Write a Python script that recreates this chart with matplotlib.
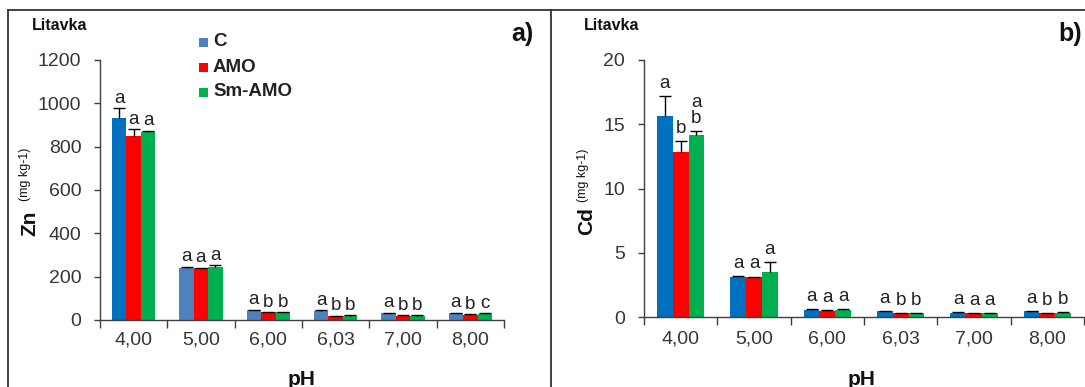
import matplotlib
matplotlib.use("Agg")
import matplotlib.pyplot as plt
import numpy as np
from matplotlib.patches import Rectangle
from matplotlib.lines import Line2D

plt.rcParams['font.family'] = ['Liberation Sans', 'DejaVu Sans']

# ---------------- data ----------------
ph_labels = ["4,00", "5,00", "6,00", "6,03", "7,00", "8,00"]
series = ["C", "AMO", "Sm-AMO"]

zn_C = [931, 238, 45, 42, 32, 32]
zn_AMO = [851, 238, 35, 18, 20, 25]
zn_Sm = [869, 243, 35, 20, 20, 28]
zn_err_C = [46, 8, 3, 2, 2, 2]
zn_err_AMO = [29, 4, 2, 2, 2, 2]
zn_err_Sm = [4, 11, 2, 1, 1, 4]
zn_letters = [["a", "a", "a"], ["a", "a", "a"], ["a", "b", "b"],
              ["a", "b", "b"], ["a", "b", "b"], ["a", "b", "c"]]

cd_C = [15.67, 3.09, 0.55, 0.45, 0.35, 0.45]
cd_AMO = [12.86, 3.08, 0.5, 0.28, 0.28, 0.28]
cd_Sm = [14.2, 3.53, 0.55, 0.28, 0.28, 0.35]
cd_err_C = [1.5, 0.12, 0.05, 0.03, 0.03, 0.03]
cd_err_AMO = [0.85, 0.07, 0.03, 0.05, 0.05, 0.03]
cd_err_Sm = [0.27, 0.73, 0.05, 0.03, 0.03, 0.05]
cd_letters = [["a", "b", "a\nb"], ["a", "a", "a"], ["a", "a", "a"],
              ["a", "b", "b"], ["a", "a", "a"], ["a", "b", "b"]]

zn_yticks = [0, 200, 400, 600, 800, 1000, 1200]
cd_yticks = [0, 5, 10, 15, 20]

# ---------------- style ----------------
BLUE = "#0070C0"
STEEL = "#4F81BD"
RED = "#FF0000"
GREEN = "#00B050"
TXT = "#363636"
AX = "#404040"

W, H = 1085, 387
fig = plt.figure(figsize=(W / 100, H / 100), dpi=100)


def fx(px):
    return px / W


def fy(py):
    return 1 - py / H


def draw_panel(rect, vals, errs, letters, yticks, ymax, c_colors,
               letter_off, xpad):
    ax = fig.add_axes(rect)
    x = np.arange(len(ph_labels))
    bw = 0.215
    offs = [-bw, 0, bw]
    cols = [c_colors, [RED] * len(x), [GREEN] * len(x)]
    for i in range(3):
        ax.bar(x + offs[i], vals[i], width=bw, color=cols[i], edgecolor='none',
               zorder=2)
        eb = ax.errorbar(x + offs[i], vals[i],
                         yerr=[np.zeros(len(x)), errs[i]], fmt='none',
                         ecolor='black', elinewidth=1, capsize=4, capthick=1,
                         zorder=3)
        caps = eb[1]
        if len(caps) == 2:
            caps[0].set_visible(False)
        for j in range(len(x)):
            ax.annotate(letters[j][i], (x[j] + offs[i], vals[i][j] + errs[i][j]),
                        xytext=(0, letter_off), textcoords='offset points',
                        ha='center', va='bottom', fontsize=13.5, color='#222222',
                        linespacing=0.95, zorder=4)
    ax.set_xlim(-0.5, len(x) - 0.5)
    ax.set_ylim(0, ymax)
    ax.set_yticks(yticks)
    ax.set_xticks(x)
    ax.set_xticklabels(ph_labels)
    ax.set_xticks(np.arange(-0.5, len(x)), minor=True)
    ax.tick_params(axis='x', which='major', length=0, pad=xpad, labelsize=14,
                   labelcolor=TXT)
    ax.tick_params(axis='x', which='minor', length=6, width=1, color=AX,
                   direction='out')
    ax.tick_params(axis='y', length=4.5, width=1, color=AX, pad=9,
                   labelsize=14, labelcolor=TXT, direction='out')
    for s in ['top', 'right']:
        ax.spines[s].set_visible(False)
    for s in ['left', 'bottom']:
        ax.spines[s].set_color(AX)
        ax.spines[s].set_linewidth(1)
    return ax


axL = draw_panel([fx(100), fy(320), fx(504) - fx(100), fy(60) - fy(320)],
                 [zn_C, zn_AMO, zn_Sm], [zn_err_C, zn_err_AMO, zn_err_Sm],
                 zn_letters, zn_yticks, 1200,
                 [BLUE] + [STEEL] * 5, 1.0, 8)
axR = draw_panel([fx(644), fy(317), fx(1084) - fx(644), fy(60) - fy(317)],
                 [cd_C, cd_AMO, cd_Sm], [cd_err_C, cd_err_AMO, cd_err_Sm],
                 cd_letters, cd_yticks, 20,
                 [BLUE] * 6, 3.0, 9.5)

# y labels
fig.text(fx(30), fy(223), "Zn", rotation=90, ha='center', va='center',
         fontsize=15, fontweight='bold', color='#111111')
fig.text(fx(25), fy(174), "(mg kg-1)", rotation=90, ha='center', va='center',
         fontsize=9, color='#111111')
fig.text(fx(587), fy(221), "Cd", rotation=90, ha='center', va='center',
         fontsize=15, fontweight='bold', color='#111111')
fig.text(fx(583), fy(175), "(mg kg-1)", rotation=90, ha='center', va='center',
         fontsize=9, color='#111111')

# x labels
fig.text(fx(302), fy(385), "pH", ha='center', va='baseline', fontsize=15,
         fontweight='bold', color='#111111')
fig.text(fx(862), fy(385), "pH", ha='center', va='baseline', fontsize=15,
         fontweight='bold', color='#111111')

# titles
fig.text(fx(32), fy(26), "Litavka", ha='left', va='center', fontsize=11.5,
         fontweight='bold', color='#111111')
fig.text(fx(584), fy(25), "Litavka", ha='left', va='center', fontsize=11.5,
         fontweight='bold', color='#111111')
fig.text(fx(533), fy(34), "a)", ha='right', va='center', fontsize=18,
         fontweight='bold', color='#111111')
fig.text(fx(1082), fy(34), "b)", ha='right', va='center', fontsize=18,
         fontweight='bold', color='#111111')

# legend
leg_cols = [STEEL, RED, GREEN]
leg_y = [42, 67, 92]
for lab, c, yy in zip(series, leg_cols, leg_y):
    fig.add_artist(Rectangle((fx(199), fy(yy + 4.5)), fx(8.5), fy(0) - fy(8.5),
                             transform=fig.transFigure, facecolor=c,
                             edgecolor='none'))
    fig.text(fx(213), fy(yy), lab, ha='left', va='center', fontsize=13.5,
             fontweight='bold', color='#222222')

# panel frames
for xs, ys in [([fx(8), fx(8)], [fy(10), 0]),
               ([fx(8), 1], [fy(10), fy(10)]),
               ([fx(551), fx(551)], [fy(10), 0])]:
    fig.add_artist(Line2D(xs, ys, transform=fig.transFigure, color='#333333',
                          linewidth=1.3))

fig.savefig("out.png", dpi=100)
